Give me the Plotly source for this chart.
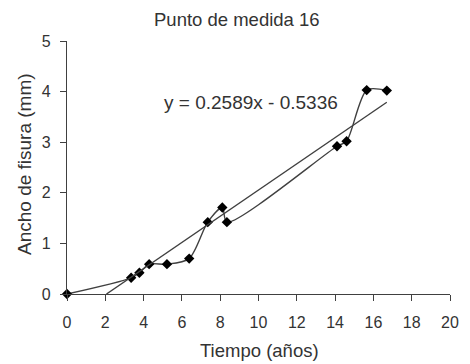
import plotly.graph_objects as go

tiempo = [0, 3.35, 3.78, 4.29, 5.22, 6.38, 7.35, 8.11, 8.35, 14.1, 14.6, 15.65, 16.7]
ancho = [0, 0.32, 0.42, 0.59, 0.59, 0.70, 1.42, 1.71, 1.42, 2.92, 3.02, 4.03, 4.02]
pendiente = 0.2589
intercepto = -0.5336
trend_x = [-intercepto / pendiente, 16.7]
trend_y = [pendiente * x + intercepto for x in trend_x]

font = "Liberation Sans, Arial, sans-serif"
gris = "#404040"
texto = "#333333"

# plot area in pixels (for converting title positions to paper coordinates)
L, R, T, B = 67, 459, 41, 294
def px(x):
    return (x - L) / (R - L)
def py(y):
    return (B - y) / (B - T)

fig = go.Figure()
fig.add_trace(go.Scatter(
    x=tiempo, y=ancho, mode="lines+markers",
    line=dict(color=gris, width=1.4, shape="spline", smoothing=0.8),
    marker=dict(symbol="diamond", size=8, color="black"),
    cliponaxis=False, showlegend=False,
))
fig.add_trace(go.Scatter(
    x=trend_x, y=trend_y, mode="lines",
    line=dict(color=gris, width=1.4),
    showlegend=False,
))
fig.add_annotation(
    x=9.6, y=3.78, xref="x", yref="y",
    text="y = 0.2589x - 0.5336", showarrow=False,
    font=dict(family=font, size=19, color=texto),
)
fig.add_annotation(
    x=px(241), y=py(19), xref="paper", yref="paper",
    text="Punto de medida 16", showarrow=False,
    xanchor="center", yanchor="middle",
    font=dict(family=font, size=18.5, color=texto),
)
fig.add_annotation(
    x=px(264), y=py(350), xref="paper", yref="paper",
    text="Tiempo (años)", showarrow=False,
    xanchor="center", yanchor="middle",
    font=dict(family=font, size=18.5, color=texto),
)
fig.add_annotation(
    x=px(23), y=py(164), xref="paper", yref="paper",
    text="Ancho de fisura (mm)", showarrow=False, textangle=-90,
    xanchor="center", yanchor="middle",
    font=dict(family=font, size=19, color=texto),
)
fig.update_layout(
    width=470, height=364,
    margin=dict(l=L, r=470 - R, t=T, b=364 - B),
    paper_bgcolor="white", plot_bgcolor="white",
    font=dict(family=font, size=16, color=texto),
)
fig.update_xaxes(
    range=[0, 20], dtick=2, tick0=0, showgrid=False, zeroline=False,
    showline=True, linecolor=gris, linewidth=1.4,
    ticks="outside", ticklen=6, tickcolor=gris,
    ticklabelstandoff=8,
)
fig.update_yaxes(
    range=[0, 5], dtick=1, tick0=0, showgrid=False, zeroline=False,
    showline=True, linecolor=gris, linewidth=1.4,
    ticks="outside", ticklen=6, tickcolor=gris,
    ticklabelstandoff=6,
)
fig.write_html("out.html")
